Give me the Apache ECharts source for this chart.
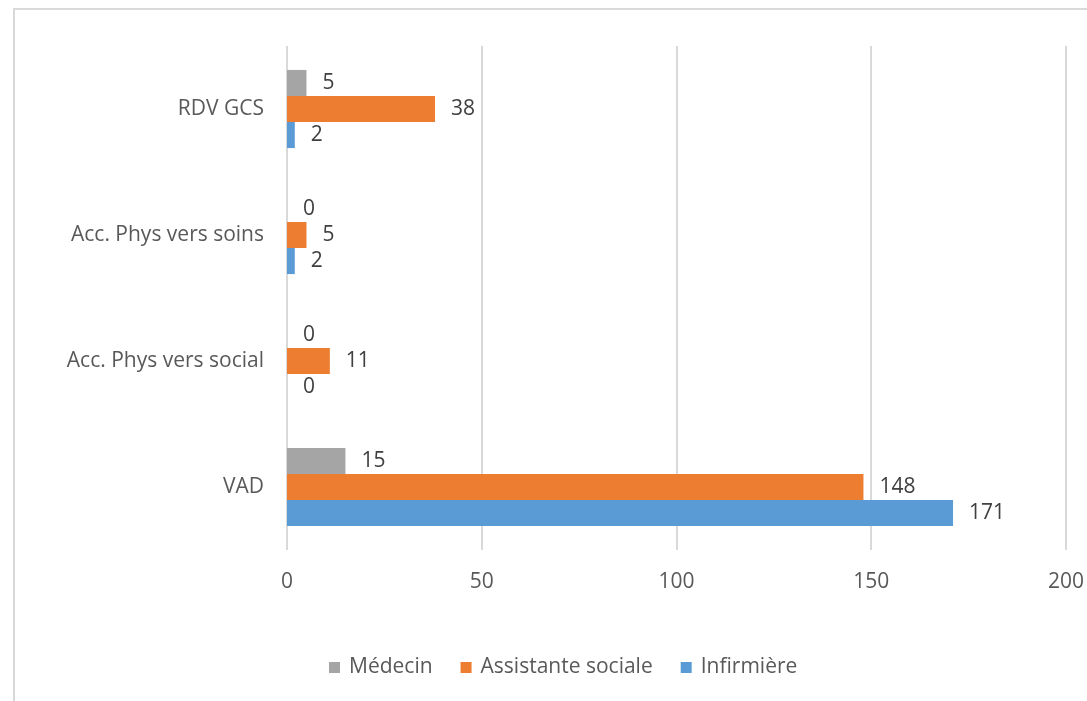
<!DOCTYPE html>
<html>
<head>
<meta charset="utf-8">
<script src="https://cdn.jsdelivr.net/npm/echarts@6/dist/echarts.min.js"></script>
<style>
  html, body { margin: 0; padding: 0; background: #fff; }
  #chart { width: 1087px; height: 701px; }
</style>
</head>
<body>
<div id="chart"></div>
<script>
// categories, bottom to top
var categories = ['VAD', 'Acc. Phys vers social', 'Acc. Phys vers soins', 'RDV GCS']
var medecin = [15, 0, 0, 5]
var assistante = [148, 11, 5, 38]
var infirmiere = [171, 0, 2, 2]
var xTicks = [0, 50, 100, 150, 200]

var font = '"Open Sans", "Noto Sans", sans-serif'

function barSeries (name, data, color) {
  return {
    name: name,
    type: 'bar',
    data: data,
    barGap: '0%',
    barCategoryGap: '38%',
    itemStyle: { color: color },
    label: {
      show: true,
      position: 'right',
      distance: 16,
      color: '#404040',
      fontSize: 21,
      fontFamily: font
    }
  }
}

var myChart = echarts.init(document.getElementById('chart'))
var option = {
  backgroundColor: '#fff',
  animation: false,
  graphic: [{
    type: 'rect',
    shape: { x: 14, y: 9, width: 1200, height: 800 },
    style: { fill: 'none', stroke: '#d9d9d9', lineWidth: 2 },
    silent: true
  }],
  grid: {
    left: 287,
    right: 21,
    top: 46,
    bottom: 151
  },
  legend: {
    data: ['Médecin', 'Assistante sociale', 'Infirmière'],
    bottom: 18,
    left: 324,
    itemWidth: 11,
    itemHeight: 11,
    itemGap: 28,
    icon: 'rect',
    textStyle: { color: '#595959', fontSize: 21, fontFamily: font, padding: [0, 0, 0, 4] }
  },
  xAxis: {
    type: 'value',
    min: xTicks[0],
    max: xTicks[xTicks.length - 1],
    interval: 50,
    axisLine: { show: false },
    axisTick: { show: false },
    splitLine: { show: true, lineStyle: { color: '#d9d9d9', width: 2 } },
    axisLabel: { color: '#595959', fontSize: 21, fontFamily: font, margin: 22 }
  },
  yAxis: {
    type: 'category',
    data: categories,
    axisLine: { show: false },
    axisTick: { show: false },
    axisLabel: { color: '#595959', fontSize: 21, fontFamily: font, margin: 23 }
  },
  series: [
    barSeries('Médecin', medecin, '#a5a5a5'),
    barSeries('Assistante sociale', assistante, '#ed7d31'),
    barSeries('Infirmière', infirmiere, '#5b9bd5')
  ]
}
myChart.setOption(option)
</script>
</body>
</html>
